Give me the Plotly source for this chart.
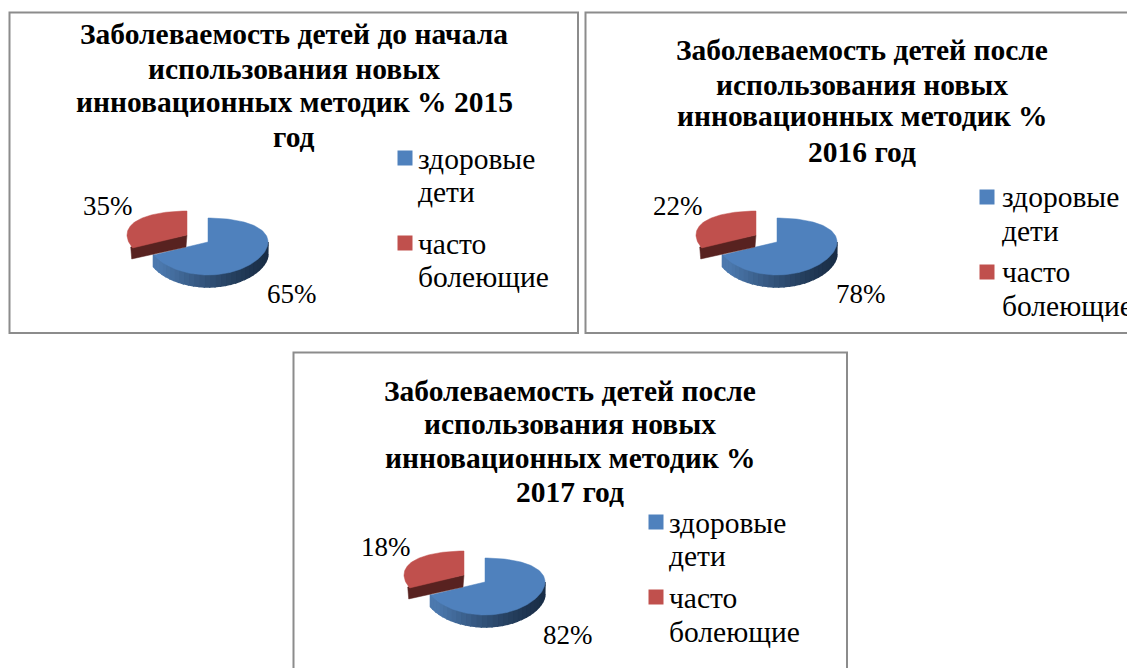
import numpy as np
import plotly.graph_objects as go

# ---- data ----
categories = ["здоровые дети", "часто болеющие"]
legend_lines = [["здоровые", "дети"], ["часто", "болеющие"]]
titles = [
    ["Заболеваемость детей до начала", "использования новых", "инновационных методик % 2015", "год"],
    ["Заболеваемость детей после", "использования новых", "инновационных методик %", "2016 год"],
    ["Заболеваемость детей после", "использования новых", "инновационных методик %", "2017 год"],
]
healthy_labels = [65, 78, 82]
sick_labels = [35, 22, 18]
# the slices in the source are drawn the same size in all three charts,
# whatever their printed labels say
healthy_drawn = [68, 68, 68]
sick_drawn = [32, 32, 32]

# ---- layout ----
W, H = 1127, 668
SERIF = "Liberation Serif"
BLUE, RED, RED_DARK = "#4f81bd", "#c0504d", "#582220"
RIM_L, RIM_R = np.array([0x4c, 0x79, 0xae]), np.array([0x1a, 0x2e, 0x47])
RX, RY, BULGE, DEPTH = 60, 28.5, 4.5, 12
EXPLODE = (-21, -7)

panels = [
    dict(frame=(9.5, 12.5, 578, 333), tip=(208, 242), title_x=294, title_y=[34, 69, 102, 137],
         lab_sick=(108, 206), lab_healthy=(292, 294),
         mark_x=405, mark_y=[158, 243], text_x=416, text_y=[159, 192, 244, 277]),
    dict(frame=(585.5, 12.5, 1140, 333), tip=(777, 242), title_x=862, title_y=[50, 85, 116, 152],
         lab_sick=(678, 206), lab_healthy=(861, 294),
         mark_x=987, mark_y=[197, 272], text_x=1000, text_y=[197, 231, 272, 306]),
    dict(frame=(293.5, 352.5, 847, 680), tip=(485, 582), title_x=570, title_y=[391, 424, 458, 492],
         lab_sick=(386, 547), lab_healthy=(568, 635),
         mark_x=656, mark_y=[522, 597], text_x=667, text_y=[523, 556, 598, 632]),
]


def project(tip, ang):
    v = -np.cos(ang)
    return tip[0] + RX * np.sin(ang), tip[1] + RY * v + BULGE * v ** 2


fig = go.Figure()


def poly(xs, ys, color, width=0.5):
    fig.add_trace(go.Scatter(x=xs, y=ys, mode="lines", fill="toself", fillcolor=color,
                             line=dict(color=color, width=width), hoverinfo="skip", showlegend=False))


annotations, shapes = [], []


def text(x, y, s, size, bold=False, anchor="center"):
    annotations.append(dict(x=x, y=y, xref="x", yref="y", text=f"<b>{s}</b>" if bold else s,
                            showarrow=False, xanchor=anchor, yanchor="middle",
                            font=dict(family=SERIF, size=size, color="#000000")))


for i, p in enumerate(panels):
    x0, y0, x1, y1 = p["frame"]
    shapes.append(dict(type="rect", xref="x", yref="y", x0=x0, y0=y0, x1=x1, y1=y1,
                       line=dict(color="#8c8c8c", width=2), fillcolor="#ffffff", layer="below"))

    split = 2 * np.pi * healthy_drawn[i] / (healthy_drawn[i] + sick_drawn[i])
    tip = p["tip"]

    # healthy slice: rim then top
    edges = np.linspace(np.pi / 2, split, 31)
    for k in range(30):
        a = np.linspace(edges[k], edges[k + 1] + 0.01, 4)
        xs, ys = project(tip, a)
        t = float((tip[0] + RX - xs.mean()) / (2 * RX))
        c = RIM_R + (RIM_L - RIM_R) * min(1.0, t ** 1.3 * 1.15)
        col = "rgb(%d,%d,%d)" % tuple(c.astype(int))
        poly(np.r_[xs, xs[::-1]], np.r_[ys, ys[::-1] + DEPTH], col, width=1.5)
    a = np.linspace(0, split, 120)
    xs, ys = project(tip, a)
    poly(np.r_[tip[0], xs, tip[0]], np.r_[tip[1], ys, tip[1]], BLUE)

    # sick slice: exploded, cut face then top
    stip = (tip[0] + EXPLODE[0], tip[1] + EXPLODE[1])
    ex, ey = project(stip, np.array([split]))
    poly([stip[0], ex[0] - 2, ex[0] - 1, stip[0] - 1, stip[0]],
         [stip[1], ey[0] - 1, ey[0] + DEPTH - 1, stip[1] + DEPTH, stip[1]], RED_DARK)
    a = np.linspace(split, 2 * np.pi, 80)
    xs, ys = project(stip, a)
    poly(np.r_[stip[0], xs, stip[0]], np.r_[stip[1], ys, stip[1]], RED)

    # legend swatches
    fig.add_trace(go.Scatter(x=[p["mark_x"]] * 2, y=p["mark_y"], mode="markers",
                             marker=dict(symbol="square", size=15, color=[BLUE, RED], line=dict(width=0)),
                             text=categories, hoverinfo="text", showlegend=False))

    # texts
    for line, y in zip(titles[i], p["title_y"]):
        text(p["title_x"], y, line, 29.5, bold=True)
    flat = legend_lines[0] + legend_lines[1]
    for line, y in zip(flat, p["text_y"]):
        text(p["text_x"], y, line, 29.5, anchor="left")
    text(*p["lab_sick"], f"{sick_labels[i]}%", 27)
    text(*p["lab_healthy"], f"{healthy_labels[i]}%", 27)

fig.update_layout(
    width=W, height=H, margin=dict(l=0, r=0, t=0, b=0),
    paper_bgcolor="#ffffff", plot_bgcolor="#ffffff", showlegend=False,
    xaxis=dict(range=[0, W], visible=False, fixedrange=True),
    yaxis=dict(range=[H, 0], visible=False, fixedrange=True),
    annotations=annotations, shapes=shapes,
)
fig.write_html("out.html", config={"displayModeBar": False},
               post_script="document.body.style.margin='0';document.body.style.overflow='hidden';")
